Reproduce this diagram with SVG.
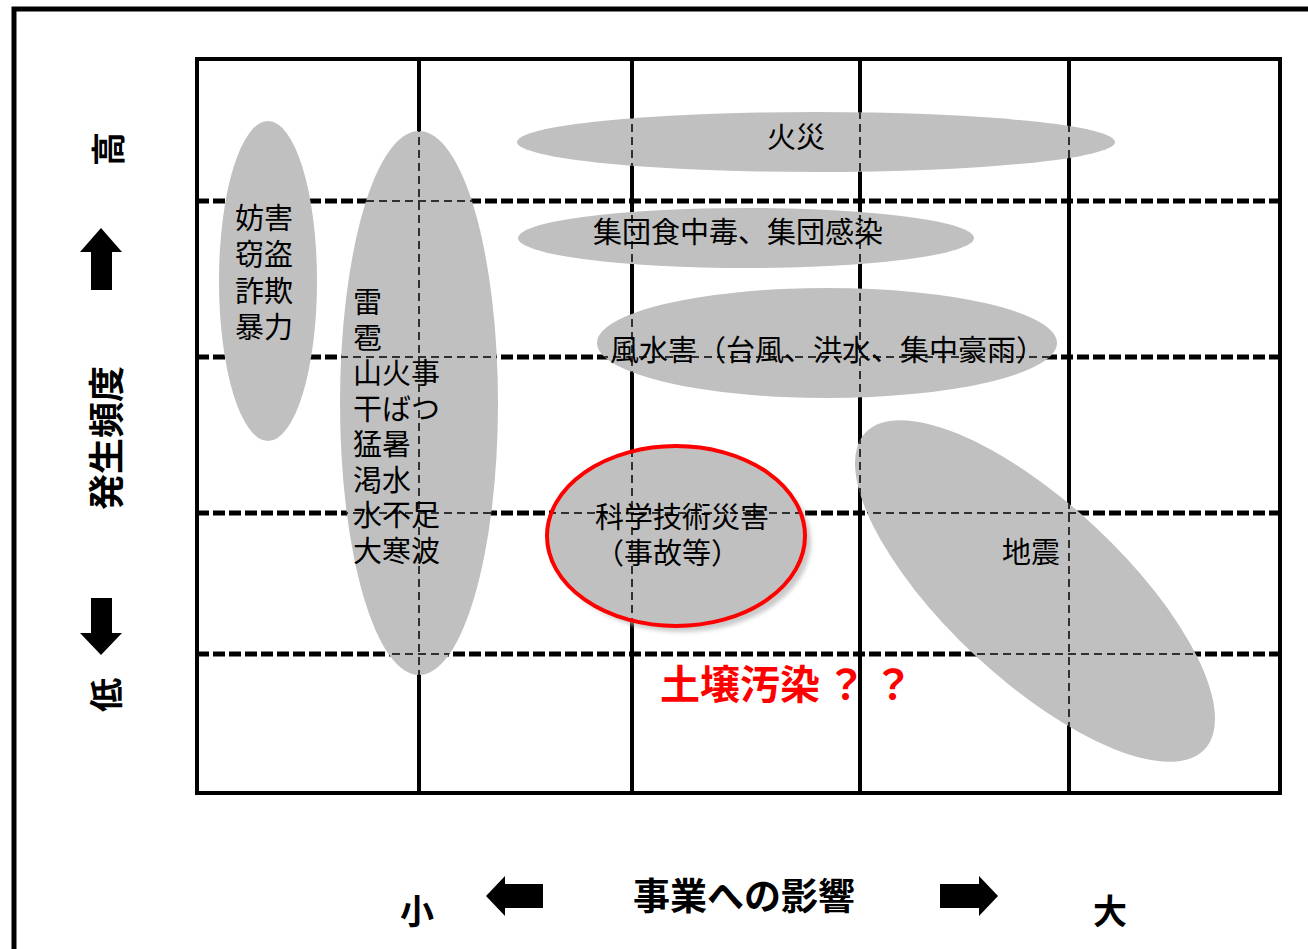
<svg xmlns="http://www.w3.org/2000/svg" width="1308" height="949" viewBox="0 0 1308 949">
<style>
.frame{fill:none;stroke:#000;stroke-width:5}
.vline{stroke:#000;stroke-width:4}
.hline{stroke:#000;stroke-width:5;stroke-dasharray:12 4}
.thin{stroke:#000;stroke-width:1.5;stroke-dasharray:8 5;fill:none}
.blob{fill:#c0c0c0}
.lbl{font-family:"Noto Sans CJK JP","Noto Sans CJK SC",sans-serif;font-size:29px;fill:#000}
.ax{font-family:"Noto Sans CJK JP","Noto Sans CJK SC",sans-serif;font-weight:700;fill:#000}
.red{font-family:"Noto Sans CJK JP","Noto Sans CJK SC",sans-serif;font-size:40px;font-weight:700;fill:#ff0000}
</style>
<defs>
<clipPath id="blobs">
<ellipse cx="419" cy="403" rx="79" ry="272"/>
<ellipse cx="816" cy="142" rx="299" ry="30"/>
<ellipse cx="746" cy="238" rx="228" ry="30"/>
<ellipse cx="827" cy="343" rx="230" ry="55"/>
<ellipse cx="676" cy="536" rx="129" ry="90"/>
<ellipse cx="1035" cy="591" rx="232" ry="88" transform="rotate(43 1035 591)"/>
</clipPath>
<filter id="blur" x="-10%" y="-10%" width="120%" height="120%"><feGaussianBlur stdDeviation="2"/></filter>
</defs>
<rect width="1308" height="949" fill="#fff"/>
<polyline class="frame" points="14,949 14,9 1308,9"/>
<g id="grid">
<rect x="197" y="59" width="1083" height="734" class="frame" style="stroke-width:4"/>
<line class="vline" x1="419" y1="59" x2="419" y2="793"/>
<line class="vline" x1="632" y1="59" x2="632" y2="793"/>
<line class="vline" x1="860" y1="59" x2="860" y2="793"/>
<line class="vline" x1="1069" y1="59" x2="1069" y2="793"/>
<line class="hline" x1="197" y1="201" x2="1280" y2="201"/>
<line class="hline" x1="197" y1="357" x2="1280" y2="357"/>
<line class="hline" x1="197" y1="513" x2="1280" y2="513"/>
<line class="hline" x1="197" y1="654" x2="1280" y2="654"/>
</g>
<g id="shapes">
<ellipse cx="682" cy="542" rx="129" ry="90" fill="#b4b4b4" opacity="0.7" filter="url(#blur)"/>
<ellipse class="blob" cx="419" cy="403" rx="79" ry="272"/>
<ellipse class="blob" cx="816" cy="142" rx="299" ry="30"/>
<ellipse class="blob" cx="746" cy="238" rx="228" ry="30"/>
<ellipse class="blob" cx="827" cy="343" rx="230" ry="55"/>
<ellipse class="blob" cx="676" cy="536" rx="129" ry="90"/>
<ellipse class="blob" cx="1035" cy="591" rx="232" ry="88" transform="rotate(43 1035 591)"/>
</g>
<g id="grid-thin" clip-path="url(#blobs)">
<line class="thin" x1="419" y1="59" x2="419" y2="793"/>
<line class="thin" x1="632" y1="59" x2="632" y2="793"/>
<line class="thin" x1="860" y1="59" x2="860" y2="793"/>
<line class="thin" x1="1069" y1="59" x2="1069" y2="793"/>
<line class="thin" x1="197" y1="201" x2="1280" y2="201"/>
<line class="thin" x1="197" y1="357" x2="1280" y2="357"/>
<line class="thin" x1="197" y1="513" x2="1280" y2="513"/>
<line class="thin" x1="197" y1="654" x2="1280" y2="654"/>
</g>
<g id="node-crime">
<ellipse class="blob" cx="268" cy="281" rx="49" ry="160"/>
<text class="lbl" x="235" y="229">妨害</text>
<text class="lbl" x="235" y="265">窃盗</text>
<text class="lbl" x="235" y="302">詐欺</text>
<text class="lbl" x="235" y="338">暴力</text>
</g>
<g id="node-weather">
<text class="lbl" x="353" y="313">雷</text>
<text class="lbl" x="353" y="349">雹</text>
<text class="lbl" x="353" y="384">山火事</text>
<text class="lbl" x="353" y="420">干ばつ</text>
<text class="lbl" x="353" y="455">猛暑</text>
<text class="lbl" x="353" y="491">渇水</text>
<text class="lbl" x="353" y="526">水不足</text>
<text class="lbl" x="353" y="562">大寒波</text>
</g>
<g id="node-fire">
<text class="lbl" x="767" y="148">火災</text>
</g>
<g id="node-infection">
<text class="lbl" x="593" y="243">集団食中毒、集団感染</text>
</g>
<g id="node-storm">
<text class="lbl" x="610" y="361">風水害（台風、洪水、集中豪雨）</text>
</g>
<g id="node-tech">
<ellipse cx="676" cy="536" rx="129" ry="90" fill="none" stroke="#ff0000" stroke-width="4"/>
<text class="lbl" x="595" y="528">科学技術災害</text>
<text class="lbl" x="595" y="564">（事故等）</text>
</g>
<g id="node-quake">
<text class="lbl" x="1002" y="563">地震</text>
</g>
<g id="node-soil">
<text class="red" x="660" y="699">土壌汚染<tspan dx="6">？</tspan><tspan dx="7">？</tspan></text>
</g>
<g id="axes">
<text class="ax" font-size="34" text-anchor="middle" dominant-baseline="central" transform="translate(106 149) rotate(-90)">高</text>
<polygon points="80,252 101,228 122,252 112,252 112,290 91,290 91,252" fill="#000"/>
<text class="ax" font-size="36" text-anchor="middle" dominant-baseline="central" transform="translate(104 438) rotate(-90)">発生頻度</text>
<polygon points="91,598 112,598 112,633 122,633 101,655 80,633 91,633" fill="#000"/>
<text class="ax" font-size="34" text-anchor="middle" dominant-baseline="central" transform="translate(104 695) rotate(-90)">低</text>
<text class="ax" font-size="34" x="417" y="924" text-anchor="middle">小</text>
<polygon points="486,896 505,876 505,884 543,884 543,908 505,908 505,916" fill="#000"/>
<text class="ax" font-size="37" x="744" y="910" text-anchor="middle">事業への影響</text>
<polygon points="998,896 979,876 979,884 940,884 940,908 979,908 979,916" fill="#000"/>
<text class="ax" font-size="34" x="1110" y="924" text-anchor="middle">大</text>
</g>
</svg>
